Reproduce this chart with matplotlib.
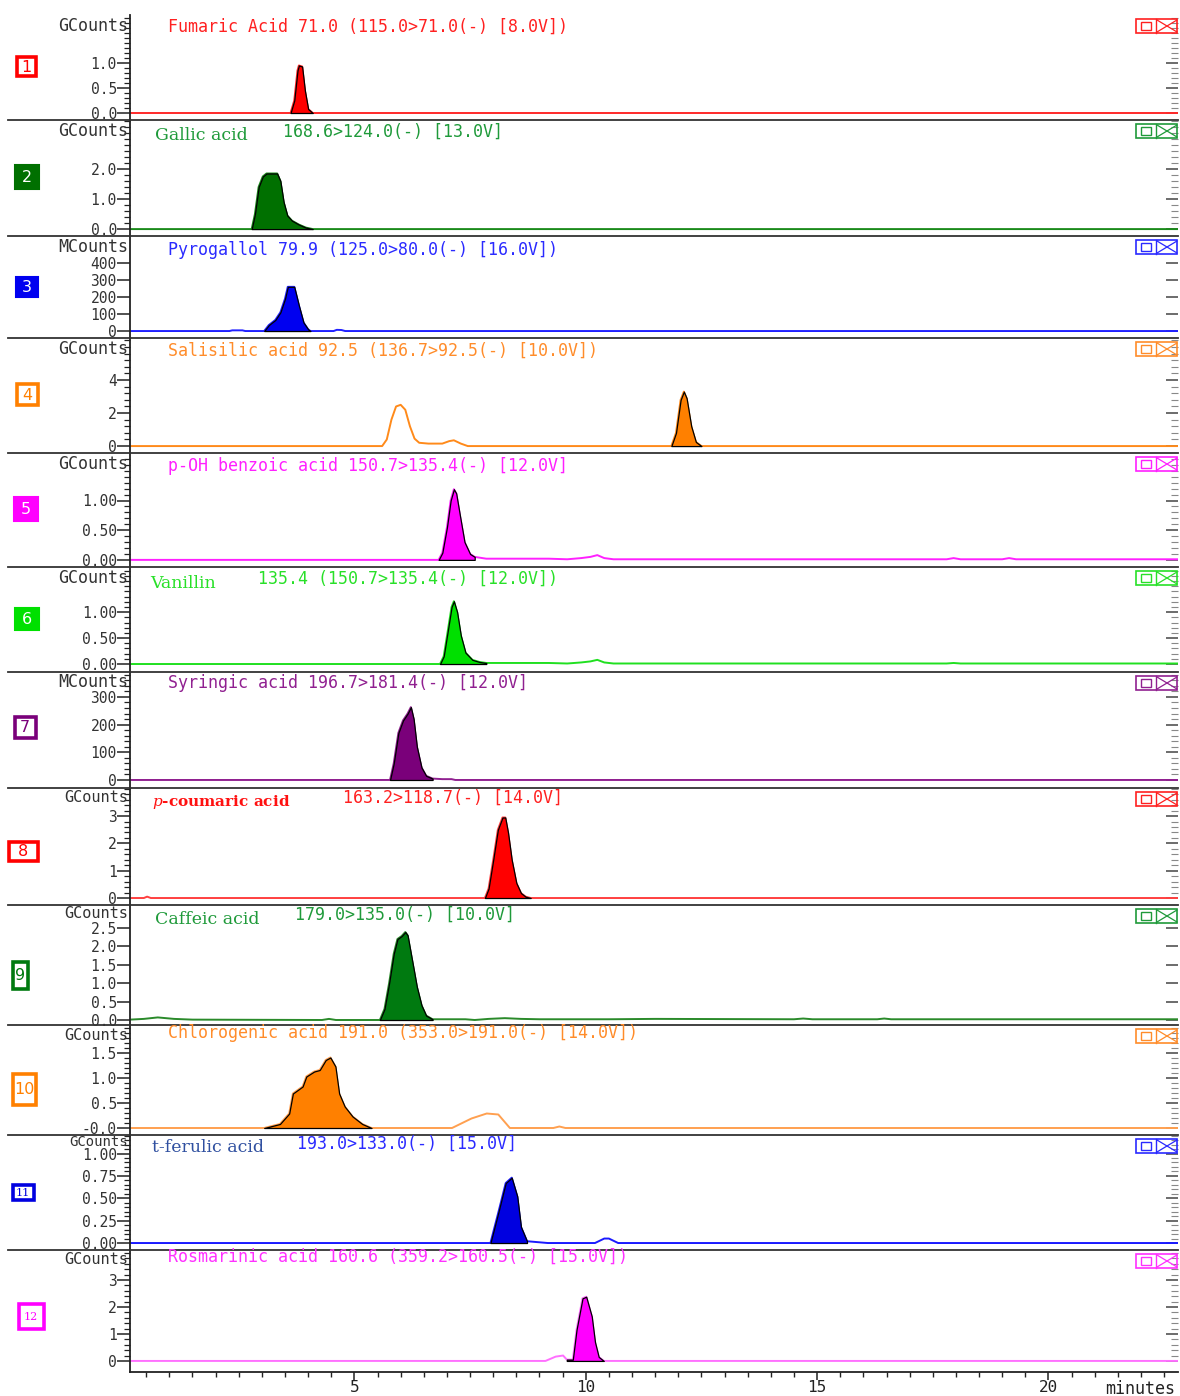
import numpy as np
import matplotlib
matplotlib.use("Agg")
import matplotlib.pyplot as plt
from matplotlib.ticker import FixedLocator
from matplotlib.patches import Rectangle
from matplotlib.lines import Line2D

plt.rcParams["font.family"] = ["DejaVu Sans Mono", "DejaVu Sans"]
plt.rcParams["mathtext.fontset"] = "dejavuserif"

W, H = 1180, 1396
XMIN, XMAX = 0.15, 22.8

# ---- traces: retention time (min) / intensity ----
t_fumaric = [0.15, 3.62, 3.70, 3.77, 3.80, 3.87, 3.93, 4.00, 4.10, 22.8]
i_fumaric = [0, 0, 0.25, 0.85, 0.95, 0.93, 0.45, 0.08, 0, 0]

t_gallic = [0.15, 2.78, 2.85, 2.93, 3.02, 3.10, 3.33, 3.40, 3.47, 3.55, 3.65, 3.80, 3.95, 4.10, 22.8]
i_gallic = [0, 0, 0.5, 1.4, 1.75, 1.85, 1.85, 1.6, 0.9, 0.45, 0.28, 0.15, 0.05, 0, 0]

t_pyrogallol = [0.15, 2.30, 2.36, 2.58, 2.64, 3.05, 3.15, 3.29, 3.40, 3.50, 3.56, 3.70, 3.80, 3.90, 4.00, 4.05,
                4.55, 4.62, 4.72, 4.80, 22.8]
i_pyrogallol = [0, 0, 4, 4, 0, 0, 35, 65, 110, 190, 260, 260, 150, 50, 10, 0, 0, 7, 6, 0, 0]

t_salisilic = [0.15, 5.60, 5.70, 5.80, 5.90, 6.00, 6.10, 6.20, 6.30, 6.40, 6.60, 6.90, 7.05, 7.15, 7.30, 7.45,
               11.85, 11.95, 12.05, 12.12, 12.18, 12.28, 12.38, 12.50, 22.8]
i_salisilic = [0, 0, 0.4, 1.6, 2.4, 2.5, 2.2, 1.2, 0.45, 0.2, 0.15, 0.15, 0.3, 0.35, 0.15, 0,
               0, 0.8, 2.8, 3.3, 2.9, 1.2, 0.25, 0, 0]

t_pohbenz = [0.15, 6.82, 6.90, 7.00, 7.08, 7.15, 7.20, 7.28, 7.38, 7.50, 7.60, 7.85, 9.20, 9.60, 9.90, 10.10,
             10.25, 10.40, 10.60, 17.80, 17.95, 18.10, 19.00, 19.15, 19.30, 22.8]
i_pohbenz = [0, 0, 0.12, 0.55, 1.0, 1.19, 1.12, 0.75, 0.3, 0.1, 0.05, 0.02, 0.02, 0.01, 0.03, 0.05,
             0.08, 0.03, 0.01, 0.01, 0.03, 0.01, 0.01, 0.03, 0.01, 0.01]

t_vanillin = [0.15, 6.85, 6.93, 7.02, 7.10, 7.15, 7.22, 7.30, 7.40, 7.55, 7.70, 7.85, 9.20, 9.60, 9.90, 10.10,
              10.25, 10.40, 10.60, 17.80, 17.95, 18.10, 22.8]
i_vanillin = [0, 0, 0.15, 0.65, 1.1, 1.21, 1.0, 0.55, 0.22, 0.08, 0.04, 0.02, 0.02, 0.01, 0.03, 0.05,
              0.08, 0.03, 0.01, 0.01, 0.02, 0.01, 0.01]

t_syringic = [0.15, 5.77, 5.85, 5.95, 6.05, 6.15, 6.22, 6.28, 6.35, 6.45, 6.55, 6.69, 6.90, 7.10, 7.18, 22.8]
i_syringic = [0, 0, 60, 170, 215, 240, 263, 220, 120, 45, 15, 5, 3, 3, 0, 0]

t_coumaric = [0.15, 0.45, 0.52, 0.60, 7.82, 7.90, 8.00, 8.10, 8.20, 8.26, 8.32, 8.40, 8.50, 8.60, 8.70, 8.81, 22.8]
i_coumaric = [0, 0, 0.05, 0, 0, 0.35, 1.4, 2.5, 2.95, 2.95, 2.4, 1.4, 0.55, 0.18, 0.05, 0, 0]

t_caffeic = [0.15, 0.45, 0.75, 1.10, 1.50, 4.30, 4.45, 4.60, 5.55, 5.65, 5.75, 5.85, 5.93, 6.02, 6.10, 6.15,
             6.25, 6.35, 6.45, 6.55, 6.69, 7.40, 7.60, 7.90, 8.25, 8.60, 9.00, 10.50, 11.50, 14.50, 14.70,
             14.90, 16.30, 16.45, 16.60, 22.8]
i_caffeic = [0.01, 0.03, 0.07, 0.03, 0.01, 0.0, 0.03, 0.0, 0, 0.3, 1.0, 1.8, 2.2, 2.28, 2.39, 2.3,
             1.6, 0.9, 0.4, 0.12, 0.02, 0.02, 0.0, 0.03, 0.05, 0.03, 0.02, 0.02, 0.03, 0.02, 0.04,
             0.02, 0.02, 0.04, 0.02, 0.02]

t_chlorogenic = [0.15, 3.05, 3.39, 3.59, 3.67, 3.88, 3.96, 4.13, 4.25, 4.38, 4.48, 4.59, 4.67, 4.79, 4.96, 5.17,
                 5.37, 7.11, 7.53, 7.86, 8.11, 8.36, 9.30, 9.43, 9.56, 22.8]
i_chlorogenic = [0, 0, 0.08, 0.29, 0.69, 0.83, 1.03, 1.13, 1.16, 1.36, 1.41, 1.23, 0.69, 0.43, 0.23, 0.08,
                 0, 0, 0.19, 0.29, 0.27, 0, 0, 0.03, 0, 0]

t_ferulic = [0.15, 7.94, 8.11, 8.27, 8.40, 8.52, 8.60, 8.73, 9.18, 10.20, 10.40, 10.50, 10.70, 22.8]
i_ferulic = [0, 0, 0.34, 0.67, 0.73, 0.52, 0.18, 0.02, 0, 0, 0.05, 0.05, 0, 0]

t_rosmarinic = [0.15, 9.13, 9.35, 9.51, 9.59, 9.72, 9.80, 9.93, 10.01, 10.13, 10.20, 10.28, 10.39, 22.8]
i_rosmarinic = [0, 0, 0.16, 0.2, 0.05, 0.05, 1.15, 2.32, 2.38, 1.65, 0.7, 0.15, 0, 0]

traces = [(t_fumaric, i_fumaric), (t_gallic, i_gallic), (t_pyrogallol, i_pyrogallol),
          (t_salisilic, i_salisilic), (t_pohbenz, i_pohbenz), (t_vanillin, i_vanillin),
          (t_syringic, i_syringic), (t_coumaric, i_coumaric), (t_caffeic, i_caffeic),
          (t_chlorogenic, i_chlorogenic), (t_ferulic, i_ferulic), (t_rosmarinic, i_rosmarinic)]

# integrated (filled) peak windows
peak_windows = [[(3.62, 4.10)], [(2.78, 4.10)], [(3.05, 4.05)], [(11.85, 12.50)], [(6.82, 7.60)],
                [(6.85, 7.85)], [(5.77, 6.69)], [(7.82, 8.81)], [(5.55, 6.69)], [(3.05, 5.37)],
                [(7.94, 8.73)], [(9.59, 10.39)]]

units = ["GCounts", "GCounts", "MCounts", "GCounts", "GCounts", "GCounts",
         "MCounts", "GCounts", "GCounts", "GCounts", "GCounts", "GCounts"]

yticks = [[0, 0.5, 1.0], [0, 1, 2], [0, 100, 200, 300, 400], [0, 2, 4], [0, 0.5, 1.0], [0, 0.5, 1.0],
          [0, 100, 200, 300], [0, 1, 2, 3], [0, 0.5, 1.0, 1.5, 2.0, 2.5], [0, 0.5, 1.0, 1.5],
          [0, 0.25, 0.5, 0.75, 1.0], [0, 1, 2, 3]]
ylabels = [["0.0", "0.5", "1.0"], ["0.0", "1.0", "2.0"], ["0", "100", "200", "300", "400"], ["0", "2", "4"],
           ["0.00", "0.50", "1.00"], ["0.00", "0.50", "1.00"], ["0", "100", "200", "300"],
           ["0", "1", "2", "3"], ["0.0", "0.5", "1.0", "1.5", "2.0", "2.5"], ["-0.0", "0.5", "1.0", "1.5"],
           ["0.00", "0.25", "0.50", "0.75", "1.00"], ["0", "1", "2", "3"]]
yminor = [0.1, 0.2, None, 0.4, 0.1, 0.1, 20, 0.2, None, 0.1, 0.05, 0.2]

xticks = [5, 10, 15, 20]

# titles: (serif compound name or None, main text)
titles = [(None, "Fumaric Acid 71.0 (115.0>71.0(-) [8.0V])"),
          ("Gallic acid", "168.6>124.0(-) [13.0V]"),
          (None, "Pyrogallol 79.9 (125.0>80.0(-) [16.0V])"),
          (None, "Salisilic acid 92.5 (136.7>92.5(-) [10.0V])"),
          (None, "p-OH benzoic acid 150.7>135.4(-) [12.0V]"),
          ("Vanillin", "135.4 (150.7>135.4(-) [12.0V])"),
          (None, "Syringic acid 196.7>181.4(-) [12.0V]"),
          (r"$\it{p}$-coumaric acid", "163.2>118.7(-) [14.0V]"),
          ("Caffeic acid", "179.0>135.0(-) [10.0V]"),
          (None, "Chlorogenic acid 191.0 (353.0>191.0(-) [14.0V])"),
          ("t-ferulic acid", "193.0>133.0(-) [15.0V]"),
          (None, "Rosmarinic acid 160.6 (359.2>160.5(-) [15.0V])")]

# ---- styling / layout (pixels) ----
line_col = ["#ff2a2a", "#1a8a1a", "#2020ff", "#ff8a1a", "#ff20ff", "#20e020",
            "#902090", "#ff4040", "#2a8a2a", "#ffa050", "#1a1aff", "#ff70ff"]
fill_col = ["#ff0000", "#007000", "#0000f0", "#ff8000", "#ff00ff", "#00e000",
            "#7a007a", "#ff0000", "#007a10", "#ff8000", "#0000e0", "#ff00ff"]
title_col = ["#ff2020", "#1f9a3a", "#2a2aff", "#ff8c2a", "#ff20ff", "#28e028",
             "#902090", "#ff2020", "#1f9a3a", "#ff8c2a", "#2a2aff", "#ff30ff"]
name_col = [None, "#1f9a3a", None, None, None, "#28e028", None, "#ff1010", "#1f9a3a", None, "#3050a0", None]
name_x = [None, 155, None, None, None, 150, None, 152, 155, None, 152, None]
main_x = [168, 283, 168, 168, 168, 258, 168, 343, 295, 168, 297, 168]
title_y = [27, 132, 250, 351, 466, 579, 683, 798, 915, 1033, 1144, 1257]
tops = [15, 120, 236, 338, 453, 567, 672, 788, 905, 1025, 1135, 1250]
bots = [120, 236, 338, 453, 567, 672, 788, 905, 1025, 1135, 1250, 1372]
unit_dy = [11, 11, 11, 11, 11, 11, 10, 10, 9, 11, 7, 10]
unit_fs = [12, 12, 12, 12, 12, 12, 12, 11, 11, 11, 10, 11]
ylims = [(-0.14, 1.96), (-0.23, 3.63), (-41, 559), (-0.42, 6.55), (-0.12, 1.80), (-0.154, 1.87),
         (-29, 390), (-0.256, 4.03), (-0.136, 3.125), (-0.14, 2.06), (-0.078, 1.207), (-0.41, 4.11)]
boxes = [(26, 66, 22, 22, "frame"), (27, 177, 24, 24, "solid"), (27, 287, 22, 20, "solid"),
         (27, 394, 24, 24, "frame"), (26, 509, 24, 24, "solid"), (27, 619, 24, 22, "solid"),
         (25, 727, 24, 24, "frame"), (23, 851, 32, 22, "frame"), (20, 975, 18, 30, "frame"),
         (24, 1089, 26, 34, "frame"), (23, 1192, 24, 18, "frame"), (31, 1316, 28, 28, "frame")]

AX_L, AX_R = 130, 1178
INK = "#222222"

fig = plt.figure(figsize=(W / 100, H / 100), dpi=100)
fig.patch.set_facecolor("white")

for k in range(12):
    T, B = tops[k], bots[k]
    ax = fig.add_axes([AX_L / W, 1 - B / H, (AX_R - AX_L) / W, (B - T) / H])
    ax.set_xlim(XMIN, XMAX)
    ax.set_ylim(*ylims[k])
    ax.patch.set_alpha(0)
    for s in ["top", "right", "bottom"]:
        ax.spines[s].set_visible(False)
    ax.spines["left"].set_linewidth(1.3)
    ax.spines["left"].set_color(INK)

    t = np.array(traces[k][0])
    v = np.array(traces[k][1])
    ax.plot(t, v, color=line_col[k], lw=1.4, zorder=2)
    for a, b in peak_windows[k]:
        m = (t >= a) & (t <= b)
        ax.fill_between(t[m], v[m], 0, facecolor=fill_col[k], edgecolor="black", lw=0.9, zorder=3)

    # y axis
    top = ylims[k][1]
    ax.yaxis.set_major_locator(FixedLocator(yticks[k]))
    ax.set_yticklabels(ylabels[k])
    if yminor[k]:
        ax.yaxis.set_minor_locator(FixedLocator(np.arange(0, top, yminor[k])))
    ax.tick_params(axis="y", which="major", direction="out", length=9.5, width=1.1,
                   labelsize=10.5, pad=0, colors=INK, labelcolor="#333333")
    ax.tick_params(axis="y", which="minor", direction="out", length=4.5, width=0.9, colors=INK)

    sec = ax.secondary_yaxis("right")
    sec.spines["right"].set_visible(False)
    sec.yaxis.set_major_locator(FixedLocator(yticks[k]))
    if yminor[k]:
        sec.yaxis.set_minor_locator(FixedLocator(np.arange(0, top, yminor[k])))
    sec.tick_params(axis="y", which="major", direction="in", length=9, width=1.1,
                    labelright=False, colors="#444444")
    sec.tick_params(axis="y", which="minor", direction="in", length=5, width=0.8, colors="#888888")

    if k < 11:
        ax.set_xticks([])
    else:
        ax.spines["bottom"].set_visible(True)
        ax.spines["bottom"].set_linewidth(1.3)
        ax.spines["bottom"].set_color(INK)
        ax.xaxis.set_major_locator(FixedLocator(xticks))
        ax.xaxis.set_minor_locator(FixedLocator(np.arange(0.5, XMAX, 0.5)))
        ax.tick_params(axis="x", which="major", direction="out", length=6, width=1.1,
                       labelsize=11.5, pad=0, colors=INK)
        ax.tick_params(axis="x", which="minor", direction="out", length=3.5, width=1.0, colors=INK)

# ---- overlay in pixel coordinates for labels and decorations ----
ov = fig.add_axes([0, 0, 1, 1], zorder=10)
ov.set_xlim(0, W)
ov.set_ylim(H, 0)
ov.axis("off")
ov.patch.set_alpha(0)

for k in range(12):
    T, B = tops[k], bots[k]
    if k < 11:
        ov.add_line(Line2D([8, AX_R], [B, B], color="#333333", lw=1.3))
    ov.text(128, T + unit_dy[k], units[k], ha="right", va="center",
            fontsize=unit_fs[k], color="#333333")

    name, main = titles[k]
    if name:
        ov.text(name_x[k], title_y[k] + 4, name, ha="left", va="center", fontsize=12.5 if k != 7 else 11,
                family="DejaVu Serif", color=name_col[k], weight="bold" if k == 7 else "normal")
    ov.text(main_x[k], title_y[k], main, ha="left", va="center", fontsize=12, color=title_col[k])

    # number box
    cx, cy, bw, bh, style = boxes[k]
    col = fill_col[k]
    if style == "solid":
        ov.add_patch(Rectangle((cx - bw / 2, cy - bh / 2), bw, bh, facecolor=col, edgecolor=col, lw=1.5))
        tc = "white"
    else:
        ov.add_patch(Rectangle((cx - bw / 2 + 1.5, cy - bh / 2 + 1.5), bw - 3, bh - 3,
                               facecolor="white", edgecolor=col, lw=2.6))
        tc = col
    dfam = "DejaVu Serif" if k >= 10 else "DejaVu Sans"
    ov.text(cx, cy + 1, str(k + 1), ha="center", va="center", fontsize=8 if k >= 10 else 11.5,
            color=tc, family=dfam)

    # window icon at the right
    x0, y0, iw, ih = 1136, T + 4, 41, 14
    col = title_col[k]
    ov.add_patch(Rectangle((x0, y0), iw, ih, fill=False, edgecolor=col, lw=1.2))
    ov.add_line(Line2D([x0 + 20, x0 + 20], [y0, y0 + ih], color=col, lw=1.0))
    ov.add_patch(Rectangle((x0 + 5, y0 + 3), 10, 8, fill=False, edgecolor=col, lw=1.0))
    ov.add_line(Line2D([x0 + 21, x0 + iw], [y0 + 1, y0 + ih - 1], color=col, lw=0.9))
    ov.add_line(Line2D([x0 + 21, x0 + iw], [y0 + ih - 1, y0 + 1], color=col, lw=0.9))

ov.text(1175, 1389, "minutes", ha="right", va="center", fontsize=12, color=INK)

fig.savefig("out.png", dpi=100)
